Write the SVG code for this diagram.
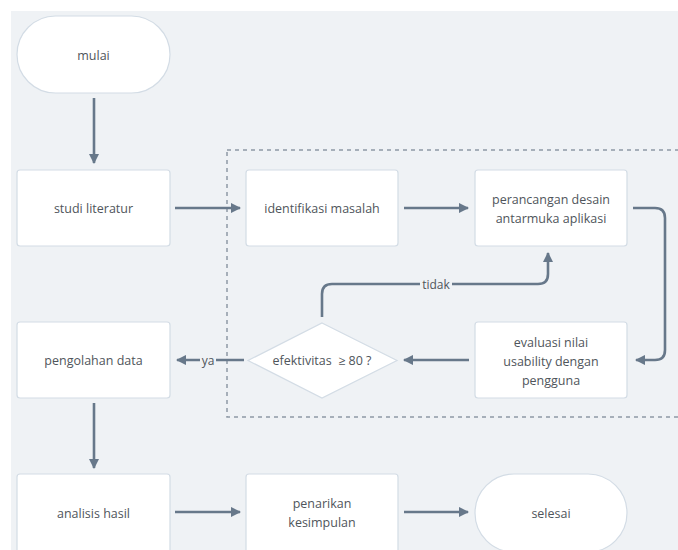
<svg xmlns="http://www.w3.org/2000/svg" width="678" height="550" viewBox="0 0 678 550">
<defs>
<style>
.n{fill:#fff;stroke:#d3dce5;stroke-width:1.2}
.t{font-family:"Open Sans","DejaVu Sans",sans-serif;font-size:12.5px;font-weight:500;fill:#4f555b;text-anchor:middle;dominant-baseline:central}
.c{fill:none;stroke:#67788a;stroke-width:2.6}
.lb{font-family:"Open Sans","DejaVu Sans",sans-serif;font-size:12px;font-weight:500;fill:#4f555b;text-anchor:middle;dominant-baseline:central}
</style>
<marker id="ah" viewBox="0 0 10 10" refX="9" refY="5" markerWidth="4" markerHeight="4" orient="auto" markerUnits="strokeWidth">
<path d="M0,0 L10,5 L0,10 Z" fill="#67788a"/>
</marker>
</defs>
<rect x="0" y="0" width="678" height="550" fill="#ffffff"/>
<rect x="11" y="11" width="667" height="539" fill="#eff2f5"/>
<rect x="227" y="150" width="480" height="267" fill="none" stroke="#8e99a5" stroke-width="1.5" stroke-dasharray="4 4"/>
<g id="connectors">
<line class="c" x1="94" y1="98" x2="94" y2="163" marker-end="url(#ah)"/>
<line class="c" x1="175" y1="208" x2="240" y2="208" marker-end="url(#ah)"/>
<line class="c" x1="404" y1="208" x2="468" y2="208" marker-end="url(#ah)"/>
<path class="c" d="M633,208 H655 Q665,208 665,218 V350 Q665,360 655,360 H636" marker-end="url(#ah)"/>
<line class="c" x1="469" y1="360" x2="404" y2="360" marker-end="url(#ah)"/>
<path class="c" d="M322,317 V294 Q322,284 332,284 H538 Q548,284 548,274 V253" marker-end="url(#ah)"/>
<rect x="420" y="276" width="32" height="16" fill="#eff2f5"/>
<text class="lb" x="436" y="284">tidak</text>
<line class="c" x1="244" y1="360" x2="177" y2="360" marker-end="url(#ah)"/>
<rect x="200" y="352" width="16" height="16" fill="#eff2f5"/>
<text class="lb" x="208" y="360">ya</text>
<line class="c" x1="94" y1="403" x2="94" y2="468" marker-end="url(#ah)"/>
<line class="c" x1="175" y1="512" x2="240" y2="512" marker-end="url(#ah)"/>
<line class="c" x1="404" y1="512" x2="468" y2="512" marker-end="url(#ah)"/>
</g>
<g id="mulai"><rect class="n" x="17" y="16" width="153" height="77" rx="38.5"/><text class="t" x="93.5" y="55">mulai</text></g>
<g id="studi"><rect class="n" x="17" y="170" width="153" height="76" rx="3"/><text class="t" x="93.5" y="208">studi literatur</text></g>
<g id="identifikasi"><rect class="n" x="246" y="170" width="152" height="76" rx="3"/><text class="t" x="322" y="208">identifikasi masalah</text></g>
<g id="perancangan"><rect class="n" x="475" y="170" width="152" height="76" rx="3"/><text class="t" x="551" y="199">perancangan desain</text><text class="t" x="551" y="218">antarmuka aplikasi</text></g>
<g id="evaluasi"><rect class="n" x="475" y="322" width="152" height="76" rx="3"/><text class="t" x="551" y="342">evaluasi nilai</text><text class="t" x="551" y="361">usability dengan</text><text class="t" x="551" y="380">pengguna</text></g>
<g id="efektivitas"><polygon class="n" points="322,323 397,360.5 322,398 248,360.5"/><text class="t" x="322" y="360.5" xml:space="preserve">efektivitas  ≥ 80 ?</text></g>
<g id="pengolahan"><rect class="n" x="17" y="322" width="153" height="76" rx="3"/><text class="t" x="93.5" y="360">pengolahan data</text></g>
<g id="analisis"><rect class="n" x="17" y="474" width="153" height="80" rx="3"/><text class="t" x="93.5" y="513">analisis hasil</text></g>
<g id="penarikan"><rect class="n" x="246" y="474" width="152" height="80" rx="3"/><text class="t" x="322" y="503">penarikan</text><text class="t" x="322" y="522">kesimpulan</text></g>
<g id="selesai"><rect class="n" x="475" y="474" width="152" height="78" rx="39"/><text class="t" x="551" y="513">selesai</text></g>
</svg>
